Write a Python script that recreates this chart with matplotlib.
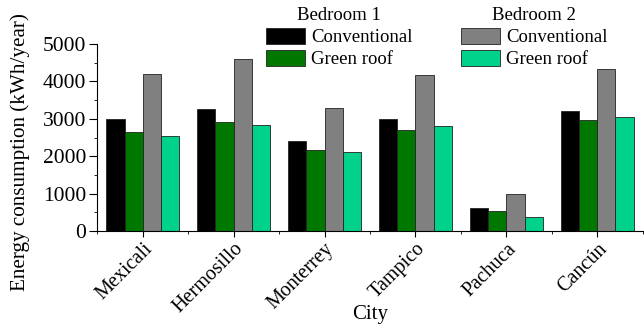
import matplotlib.pyplot as plt
import numpy as np
from matplotlib.patches import Patch

plt.rcParams['font.family'] = ['Liberation Serif', 'DejaVu Serif']

cities = ['Mexicali', 'Hermosillo', 'Monterrey', 'Tampico', 'Pachuca', 'Cancún']
b1_conv = [2990, 3260, 2400, 3000, 630, 3210]
b1_green = [2640, 2920, 2170, 2710, 540, 2960]
b2_conv = [4200, 4600, 3300, 4170, 990, 4330]
b2_green = [2540, 2830, 2120, 2810, 375, 3060]

colors = ['#000000', '#007800', '#808080', '#00d28c']
series = [b1_conv, b1_green, b2_conv, b2_green]

fig = plt.figure(figsize=(6.44, 3.26), dpi=100)
ax = fig.add_axes([0.151, 0.291, 0.847, 0.574])

x = np.arange(1, len(cities) + 1)
w = 0.2
for i, (vals, c) in enumerate(zip(series, colors)):
    ax.bar(x + (i - 1.5) * w, vals, w, color=c, edgecolor='#222222', linewidth=0.6)

ax.set_xlim(0.5, 6.5)
ax.set_ylim(0, 5000)
ax.set_xticks(x)
ax.set_xticklabels(cities, rotation=45, ha='right', rotation_mode='anchor', fontsize=14.5)
ax.set_xticks(np.arange(0.5, 6.6, 1), minor=True)
ax.set_yticks(np.arange(0, 5001, 1000))
ax.set_yticks(np.arange(0, 5001, 500), minor=True)
ax.tick_params(axis='y', labelsize=15.5, direction='out', length=6, width=0.8, pad=2)
ax.tick_params(axis='x', direction='out', length=4, width=0.8, pad=2)
ax.tick_params(which='minor', length=2.5, width=0.6)
ax.spines['top'].set_visible(False)
ax.spines['right'].set_visible(False)
ax.set_ylabel('Energy consumption (kWh/year)', fontsize=15.2)
ax.yaxis.set_label_coords(-0.123, 0.42)
fig.text(370 / 644, 0.02, 'City', ha='center', va='baseline', fontsize=15)

# two separate legends, one per bedroom
labels = ['Conventional', 'Green roof']
for j, (title, xa) in enumerate([('Bedroom 1', 266 / 644), ('Bedroom 2', 461 / 644)]):
    handles = [Patch(facecolor=colors[2 * j + k], edgecolor='#222222', linewidth=0.6)
               for k in range(2)]
    fig.legend(handles, labels, title=title, loc='upper left',
               bbox_to_anchor=(xa, 0.979), frameon=False, fontsize=13.5,
               title_fontsize=13.5, handlelength=2.1, handleheight=0.95,
               handletextpad=0.3, labelspacing=0.2, borderpad=0.0,
               borderaxespad=0.0)

fig.savefig('out.png', dpi=100)
